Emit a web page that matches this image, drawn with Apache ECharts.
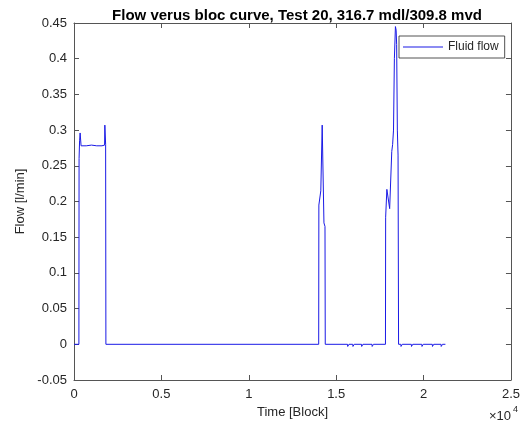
<!DOCTYPE html>
<html>
<head>
<meta charset="utf-8">
<script src="https://cdn.jsdelivr.net/npm/echarts@6/dist/echarts.min.js"></script>
<style>
  html, body { margin: 0; padding: 0; background: #fff; }
  #chart { width: 523px; height: 426px; }
</style>
</head>
<body>
<div id="chart"></div>
<script>
// time in blocks, flow in l/min
const timeBlocks = [
  0, 280, 290, 320, 350, 385, 405, 700, 1000, 1300, 1600, 1750, 1765, 1790, 1810, 1825,
  14000, 14010, 14100, 14120, 14170, 14200, 14280, 14300, 14360, 14375,
  15650, 15660, 15720, 15730, 15950, 15960, 16020, 16030, 16450, 16460, 16520, 16530, 17050, 17060, 17120, 17130,
  17820, 17830, 17880, 17900, 17990, 18060, 18140, 18180, 18230, 18280, 18330, 18390, 18430, 18460, 18500, 18540, 18570,
  18700, 18710, 18770, 18780, 19300, 19310, 19370, 19380, 19900, 19910, 19970, 19980, 20500, 20510, 20570, 20580, 21000, 21010, 21070, 21080, 21250
];
const flowValues = [
  0, 0, 0.26, 0.285, 0.296, 0.294, 0.278, 0.278, 0.279, 0.278, 0.278, 0.279, 0.307, 0.305, 0.28, 0,
  0, 0.195, 0.197, 0.215, 0.215, 0.307, 0.305, 0.17, 0.165, 0,
  0, -0.003, -0.003, 0, 0, -0.003, -0.003, 0, 0, -0.003, -0.003, 0, 0, -0.003, -0.003, 0,
  0, 0.178, 0.18, 0.217, 0.215, 0.19, 0.19, 0.27, 0.28, 0.3, 0.4, 0.445, 0.44, 0.42, 0.3, 0.265, 0,
  0, -0.003, -0.003, 0, 0, -0.003, -0.003, 0, 0, -0.003, -0.003, 0, 0, -0.003, -0.003, 0, 0, -0.003, -0.003, 0, 0
];
const xTickLabels = ['0', '0.5', '1', '1.5', '2', '2.5'];
const yTickLabels = ['-0.05', '0', '0.05', '0.1', '0.15', '0.2', '0.25', '0.3', '0.35', '0.4', '0.45'];
const seriesName = 'Fluid flow';

const FONT = '"Liberation Sans", Arial, sans-serif';
const AXIS = '#555555';
const TEXT = '#262626';
const LINE = '#1a1ae6';

const chart = echarts.init(document.getElementById('chart'), null, { renderer: 'canvas' });

const tickInside = { show: true, inside: true, length: 5, lineStyle: { color: AXIS } };
const baseX = {
  type: 'value', min: 0, max: 25000, interval: 5000,
  splitLine: { show: false },
  axisLine: { show: true, onZero: false, lineStyle: { color: AXIS, width: 1 } },
  axisTick: tickInside
};
const baseY = {
  type: 'value', min: -0.05, max: 0.45, interval: 0.05,
  splitLine: { show: false },
  axisLine: { show: true, onZero: false, lineStyle: { color: AXIS, width: 1 } },
  axisTick: tickInside
};

chart.setOption({
  animation: false,
  backgroundColor: '#fff',
  title: {
    text: 'Flow verus bloc curve, Test 20, 316.7 mdl/309.8 mvd',
    left: 292, textAlign: 'center', top: 3,
    textStyle: { fontFamily: FONT, fontSize: 15, fontWeight: 'bold', color: '#000' }
  },
  grid: { left: 74, right: 10, top: 23, bottom: 46 },
  legend: {
    data: [{ name: seriesName, icon: 'rect' }],
    left: 399, top: 36,
    itemWidth: 40, itemHeight: 1.2, itemGap: 4,
    padding: [5, 6, 5, 4],
    borderColor: '#262626', borderWidth: 0.8,
    backgroundColor: '#fff',
    textStyle: { fontFamily: FONT, fontSize: 12, color: TEXT }
  },
  xAxis: [
    Object.assign({}, baseX, {
      position: 'bottom',
      name: 'Time [Block]', nameLocation: 'middle', nameGap: 19,
      nameTextStyle: { fontFamily: FONT, fontSize: 13, color: TEXT },
      axisLabel: { fontFamily: FONT, fontSize: 13, color: TEXT, margin: 8,
        formatter: (v) => xTickLabels[Math.round(v / 5000)] }
    }),
    Object.assign({}, baseX, { position: 'top', axisLabel: { show: false } })
  ],
  yAxis: [
    Object.assign({}, baseY, {
      position: 'left',
      name: 'Flow [l/min]', nameLocation: 'middle', nameGap: 40,
      nameTextStyle: { fontFamily: FONT, fontSize: 13, color: TEXT },
      axisLabel: { fontFamily: FONT, fontSize: 13, color: TEXT, margin: 7,
        formatter: (v) => yTickLabels[Math.round((v + 0.05) / 0.05)] }
    }),
    Object.assign({}, baseY, { position: 'right', axisLabel: { show: false } })
  ],
  graphic: [
    { type: 'text', right: 12, bottom: 3,
      style: { text: '×10', fontFamily: FONT, fontSize: 13, fill: TEXT } },
    { type: 'text', right: 5, bottom: 12,
      style: { text: '4', fontFamily: FONT, fontSize: 9, fill: TEXT } }
  ],
  series: [{
    name: seriesName,
    type: 'line',
    xAxisIndex: 0, yAxisIndex: 0,
    data: timeBlocks.map((t, i) => [t, flowValues[i]]),
    symbol: 'none',
    lineStyle: { color: LINE, width: 1 },
    itemStyle: { color: LINE }
  }]
});
</script>
</body>
</html>
